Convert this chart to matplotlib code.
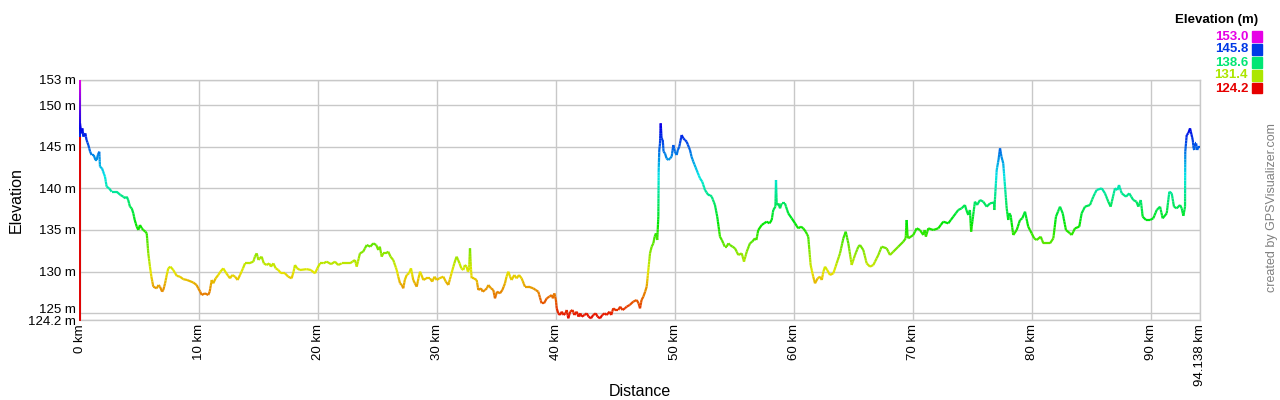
import numpy as np
import matplotlib
matplotlib.use("Agg")
import matplotlib.pyplot as plt
from matplotlib.collections import LineCollection
from matplotlib.colors import hsv_to_rgb
from matplotlib.transforms import offset_copy

plt.rcParams['font.family'] = ['Liberation Sans', 'DejaVu Sans']

# ---- data ----
distance_km = [
    0.00, 0.10, 0.20, 0.28, 0.45, 0.55, 0.70, 0.85, 0.98, 1.15, 1.30, 1.40, 1.50, 1.62, 1.68, 1.85, 2.10, 2.24, 2.45, 2.66,
    3.08, 3.40, 3.64, 3.80, 3.93, 4.05, 4.20, 4.35, 4.48, 4.60, 4.77, 4.90, 5.04, 5.20, 5.32, 5.50, 5.61, 5.74, 5.88, 6.00,
    6.16, 6.45, 6.60, 6.72, 6.90, 7.00, 7.15, 7.29, 7.42, 7.60, 7.84, 8.13, 8.40, 8.68, 9.00, 9.52, 9.80, 9.94, 10.10, 10.23,
    10.50, 10.78, 10.90, 11.07, 11.20, 11.40, 11.62, 11.80, 12.04, 12.30, 12.61, 12.80, 13.03, 13.25, 13.45, 13.70, 13.87, 14.20, 14.57, 14.70,
    14.85, 15.00, 15.10, 15.27, 15.45, 15.69, 15.90, 16.05, 16.25, 16.45, 16.67, 16.90, 17.23, 17.50, 17.79, 17.95, 18.07, 18.25, 18.49, 19.05,
    19.40, 19.75, 19.95, 20.17, 20.45, 20.74, 21.10, 21.43, 21.70, 22.00, 22.40, 22.69, 22.90, 23.11, 23.26, 23.53, 23.80, 24.10, 24.40, 24.65,
    24.90, 25.07, 25.20, 25.36, 25.49, 25.70, 25.91, 26.10, 26.33, 26.62, 26.75, 26.90, 27.05, 27.17, 27.30, 27.46, 27.65, 27.82, 28.01, 28.15,
    28.30, 28.45, 28.58, 28.70, 28.86, 29.10, 29.42, 29.60, 29.80, 29.98, 30.20, 30.54, 30.75, 30.96, 31.15, 31.38, 31.55, 31.66, 31.90, 32.05,
    32.22, 32.35, 32.50, 32.60, 32.70, 32.78, 32.85, 32.92, 33.10, 33.34, 33.48, 33.70, 33.85, 34.04, 34.20, 34.32, 34.55, 34.74, 34.88, 35.05,
    35.30, 35.50, 35.72, 35.85, 36.00, 36.15, 36.28, 36.50, 36.70, 36.90, 37.12, 37.40, 37.70, 38.10, 38.30, 38.52, 38.80, 39.00, 39.23, 39.45,
    39.65, 39.75, 39.87, 40.00, 40.07, 40.20, 40.34, 40.50, 40.65, 40.80, 40.91, 41.04, 41.20, 41.40, 41.55, 41.75, 41.90, 42.05, 42.17, 42.40,
    42.59, 42.75, 42.95, 43.14, 43.35, 43.50, 43.71, 43.90, 44.10, 44.27, 44.50, 44.65, 44.82, 45.00, 45.24, 45.40, 45.60, 45.80, 45.95, 46.20,
    46.50, 46.79, 46.95, 47.07, 47.20, 47.35, 47.50, 47.63, 47.77, 47.91, 48.05, 48.19, 48.30, 48.41, 48.52, 48.61, 48.64, 48.69, 48.75, 48.81,
    48.88, 48.98, 49.05, 49.17, 49.30, 49.45, 49.60, 49.73, 49.87, 50.00, 50.15, 50.25, 50.37, 50.57, 50.71, 50.85, 50.99, 51.27, 51.40, 51.55,
    51.83, 52.11, 52.30, 52.53, 52.81, 52.95, 53.10, 53.37, 53.56, 53.79, 53.95, 54.07, 54.20, 54.35, 54.50, 54.63, 54.85, 55.05, 55.20, 55.33,
    55.62, 55.81, 56.04, 56.31, 56.50, 56.73, 56.85, 57.01, 57.30, 57.50, 57.72, 57.95, 58.14, 58.27, 58.45, 58.50, 58.56, 58.70, 58.84, 58.98,
    59.25, 59.53, 59.82, 60.10, 60.37, 60.60, 60.79, 61.00, 61.21, 61.41, 61.63, 61.78, 62.00, 62.20, 62.35, 62.48, 62.62, 62.80, 63.04, 63.32,
    63.60, 63.88, 64.16, 64.36, 64.58, 64.86, 65.14, 65.42, 65.56, 65.84, 66.12, 66.40, 66.68, 67.10, 67.38, 67.80, 68.08, 68.36, 68.78, 69.20,
    69.40, 69.48, 69.55, 69.62, 70.04, 70.32, 70.60, 70.88, 71.00, 71.10, 71.30, 71.72, 72.14, 72.56, 72.98, 73.40, 73.82, 74.10, 74.38, 74.50,
    74.66, 74.80, 74.90, 74.95, 75.22, 75.40, 75.65, 75.92, 76.21, 76.49, 76.83, 76.85, 77.05, 77.20, 77.33, 77.45, 77.60, 77.75, 77.89, 78.02,
    78.10, 78.22, 78.44, 78.73, 79.01, 79.20, 79.43, 79.55, 79.70, 79.99, 80.20, 80.41, 80.75, 80.97, 81.53, 81.81, 82.03, 82.20, 82.37, 82.60,
    82.87, 83.21, 83.35, 83.63, 83.99, 84.19, 84.47, 84.89, 85.17, 85.45, 85.88, 86.15, 86.43, 86.63, 86.99, 87.20, 87.33, 87.56, 87.92, 88.19,
    88.53, 88.80, 88.95, 89.16, 89.32, 89.60, 89.94, 90.21, 90.50, 90.78, 91.00, 91.34, 91.56, 91.76, 91.95, 92.18, 92.46, 92.60, 92.74, 92.88,
    92.90, 93.02, 93.15, 93.30, 93.53, 93.60, 93.66, 93.72, 93.81, 93.90, 94.00, 94.138,
]
elevation_m = [
    147.8, 146.6, 147.2, 146.2, 146.6, 145.8, 145.2, 144.4, 144.0, 144.0, 143.4, 143.4, 144.0, 144.4, 142.6, 142.4, 141.4, 140.2, 140.0, 139.6,
    139.6, 139.2, 139.0, 138.8, 139.0, 138.6, 137.8, 137.6, 137.0, 136.2, 135.4, 135.0, 135.6, 135.2, 135.0, 134.8, 134.6, 132.2, 130.6, 129.4,
    128.2, 128.0, 128.4, 128.2, 127.6, 127.8, 128.6, 129.6, 130.4, 130.6, 130.2, 129.5, 129.4, 129.1, 129.0, 128.7, 128.4, 128.0, 127.6, 127.2,
    127.4, 127.2, 127.6, 129.0, 128.6, 129.2, 129.6, 130.0, 130.4, 129.8, 129.2, 129.6, 129.4, 129.0, 129.6, 130.4, 131.0, 131.0, 131.2, 131.8,
    132.2, 131.4, 131.6, 131.8, 131.0, 130.8, 131.0, 130.6, 131.0, 130.4, 130.2, 129.8, 129.8, 129.4, 129.2, 130.0, 130.8, 130.4, 130.2, 130.3,
    130.2, 129.8, 130.4, 131.0, 131.0, 131.2, 130.9, 131.2, 130.8, 131.0, 131.0, 131.0, 131.2, 131.4, 130.6, 132.2, 132.4, 133.2, 133.0, 133.4,
    133.2, 132.6, 133.0, 131.8, 132.2, 132.2, 132.4, 131.8, 131.4, 130.2, 129.4, 128.6, 128.4, 128.0, 129.0, 129.6, 129.8, 130.4, 129.0, 128.6,
    128.2, 129.2, 130.0, 129.6, 129.0, 129.2, 129.2, 128.8, 129.4, 129.0, 129.2, 129.4, 128.8, 128.4, 129.4, 130.6, 131.4, 131.8, 131.0, 130.4,
    130.2, 130.8, 130.6, 130.0, 130.2, 132.8, 130.6, 129.2, 129.2, 129.0, 127.8, 128.0, 127.6, 127.8, 128.0, 128.4, 128.0, 127.8, 126.8, 127.6,
    127.4, 127.8, 128.6, 129.4, 130.0, 129.4, 129.0, 129.6, 129.2, 129.6, 129.2, 128.2, 128.2, 128.0, 127.8, 127.6, 126.2, 126.2, 126.8, 127.0,
    127.2, 126.8, 127.4, 126.6, 125.6, 125.0, 124.8, 125.2, 124.8, 125.0, 125.4, 124.4, 125.2, 125.4, 124.8, 125.2, 124.6, 125.0, 124.6, 124.8,
    125.0, 124.6, 124.4, 124.8, 125.0, 124.6, 124.4, 124.8, 125.0, 124.8, 125.2, 124.8, 125.6, 125.4, 125.4, 125.8, 125.4, 125.6, 125.8, 126.0,
    126.4, 126.6, 126.2, 125.6, 126.6, 127.0, 127.6, 128.2, 130.2, 132.2, 133.0, 133.4, 134.2, 134.6, 133.8, 136.6, 142.2, 144.6, 145.4, 147.8,
    146.0, 145.8, 144.4, 144.2, 143.6, 143.4, 143.6, 143.8, 145.2, 144.4, 144.0, 144.6, 145.0, 146.4, 146.0, 145.8, 145.6, 144.6, 143.8, 143.2,
    142.2, 141.2, 140.8, 139.8, 139.2, 139.2, 139.0, 138.0, 136.6, 134.2, 133.8, 133.4, 133.0, 133.0, 133.4, 133.2, 133.0, 132.8, 132.4, 132.0,
    132.2, 131.2, 132.4, 133.4, 133.6, 134.0, 133.8, 135.0, 135.6, 135.8, 136.0, 135.8, 136.2, 137.4, 137.8, 141.0, 138.0, 138.2, 137.6, 138.2,
    138.2, 137.0, 136.4, 135.8, 135.2, 135.4, 135.2, 134.8, 134.2, 130.8, 129.4, 128.6, 129.2, 129.4, 129.0, 130.0, 130.6, 130.2, 129.6, 129.8,
    131.0, 132.2, 134.0, 134.8, 133.4, 130.8, 132.0, 133.0, 133.2, 132.6, 131.0, 130.6, 130.8, 132.0, 133.0, 132.8, 132.0, 132.4, 133.0, 133.6,
    134.0, 136.2, 134.4, 134.0, 134.4, 135.2, 135.0, 134.4, 135.0, 134.2, 135.2, 135.0, 135.2, 136.0, 135.8, 136.6, 137.4, 137.6, 138.0, 137.4,
    136.8, 137.4, 134.8, 135.4, 138.4, 138.0, 138.6, 138.4, 137.8, 138.2, 138.3, 137.4, 142.2, 143.4, 144.8, 143.8, 143.0, 140.2, 137.6, 136.2,
    137.0, 136.8, 134.4, 135.0, 136.2, 136.4, 137.2, 136.4, 135.4, 134.6, 134.0, 133.8, 134.2, 133.4, 133.4, 134.0, 136.6, 137.2, 137.8, 137.0,
    135.0, 134.6, 134.4, 135.2, 135.4, 137.0, 137.8, 138.0, 139.0, 139.8, 140.0, 139.4, 138.4, 137.8, 140.0, 139.8, 140.4, 139.4, 139.0, 139.4,
    138.6, 138.4, 137.8, 138.6, 136.6, 136.2, 136.2, 136.4, 137.4, 137.8, 136.4, 137.0, 139.6, 139.4, 137.8, 137.6, 138.0, 137.6, 136.7, 137.8,
    144.4, 146.4, 146.6, 147.2, 145.8, 144.8, 144.6, 145.4, 145.4, 144.6, 145.0, 145.0,
]

elev_min, elev_max = 124.2, 153.0
total_km = 94.138
x_ticks = [0, 10, 20, 30, 40, 50, 60, 70, 80, 90, 94.138]
x_tick_labels = ["0 km", "10 km", "20 km", "30 km", "40 km", "50 km", "60 km",
                 "70 km", "80 km", "90 km", "94.138 km"]
y_ticks = [124.2, 125, 130, 135, 140, 145, 150, 153]
y_tick_labels = ["124.2 m", "125 m", "130 m", "135 m", "140 m", "145 m", "150 m", "153 m"]
legend_values = [153.0, 145.8, 138.6, 131.4, 124.2]


def elev_color(e):
    f = np.clip((np.asarray(e, dtype=float) - elev_min) / (elev_max - elev_min), 0, 1)
    h = f * 300.0 / 360.0
    hsv = np.stack([h, np.ones_like(h), np.full_like(h, 0.9)], axis=-1)
    return hsv_to_rgb(hsv)


fig = plt.figure(figsize=(12.8, 4.0), dpi=100)
ax = fig.add_axes([80 / 1280, 80 / 400, 1120 / 1280, 240 / 400])
ax.set_xlim(0, total_km)
ax.set_ylim(elev_min, elev_max)

grid_c = "#c8c8c8"
for xv in x_ticks:
    ax.axvline(xv, color=grid_c, lw=1.0, zorder=1)
for yv in y_ticks:
    ax.axhline(yv, color=grid_c, lw=1.0, zorder=1)
for s in ["top", "right", "bottom"]:
    ax.spines[s].set_color(grid_c)
    ax.spines[s].set_linewidth(1.0)
ax.spines["left"].set_visible(False)

# profile, coloured by elevation (segments split finely for a smooth gradient)
d = np.asarray(distance_km)
e = np.asarray(elevation_m)
segs, cols = [], []
for i in range(len(d) - 1):
    n = max(1, int(abs(e[i + 1] - e[i]) / 0.3))
    t = np.linspace(0, 1, n + 1)
    xs = d[i] + (d[i + 1] - d[i]) * t
    ys = e[i] + (e[i + 1] - e[i]) * t
    for j in range(n):
        segs.append([(xs[j], ys[j]), (xs[j + 1], ys[j + 1])])
        cols.append(elev_color((ys[j] + ys[j + 1]) / 2))
lc = LineCollection(segs, colors=cols, linewidths=1.6, capstyle="butt", zorder=3)
ax.add_collection(lc)

# left edge: red from floor up to the start elevation, colour-coded above
ax.plot([0, 0], [elev_min, 146.2], color="#e00000", lw=1.4, zorder=4, clip_on=False)
ys = np.linspace(146.2, elev_max, 30)
lseg = [[(0, ys[k]), (0, ys[k + 1])] for k in range(len(ys) - 1)]
ax.add_collection(LineCollection(lseg, colors=elev_color((ys[:-1] + ys[1:]) / 2),
                                 linewidths=1.4, zorder=4, clip_on=False))

ax.set_yticks(y_ticks)
ax.set_yticklabels(y_tick_labels, fontsize=9.5)
ax.set_xticks(x_ticks)
ax.set_xticklabels(x_tick_labels, fontsize=9.5, rotation=90, va="top", ha="center")
ax.tick_params(length=0, pad=3, colors="#000000")
# nudge the 125 m label up so it clears the 124.2 m floor label
for lab in ax.get_yticklabels():
    if lab.get_text() == "125 m":
        lab.set_transform(offset_copy(lab.get_transform(), fig=fig, x=0, y=4.5, units="dots"))
    if lab.get_text() == "124.2 m":
        lab.set_transform(offset_copy(lab.get_transform(), fig=fig, x=0, y=-0.5, units="dots"))

fig.text(640 / 1280, 1 - 392 / 400, "Distance", fontsize=11.5, ha="center", va="center")
fig.text(16 / 1280, 1 - 200 / 400, "Elevation", fontsize=11.5, ha="center", va="center",
         rotation=90)

# legend
fig.text(1258 / 1280, 1 - 20 / 400, "Elevation (m)", fontsize=9.5, fontweight="bold",
         ha="right", va="center")
for k, v in enumerate(legend_values):
    yc = 1 - (36.5 + k * 13.0) / 400
    c = elev_color(v)
    fig.text(1248 / 1280, yc, f"{v:.1f}", fontsize=9.5, fontweight="bold", color=c,
             ha="right", va="center")
    fig.patches.append(plt.Rectangle((1252 / 1280, yc - 5 / 400), 10 / 1280, 10 / 400,
                                     transform=fig.transFigure, color=c))

fig.text(1272 / 1280, 1 - 208 / 400, "created by GPSVisualizer.com", fontsize=9,
         color="#808080", rotation=90, ha="center", va="center")

fig.savefig("out.png", dpi=100)
